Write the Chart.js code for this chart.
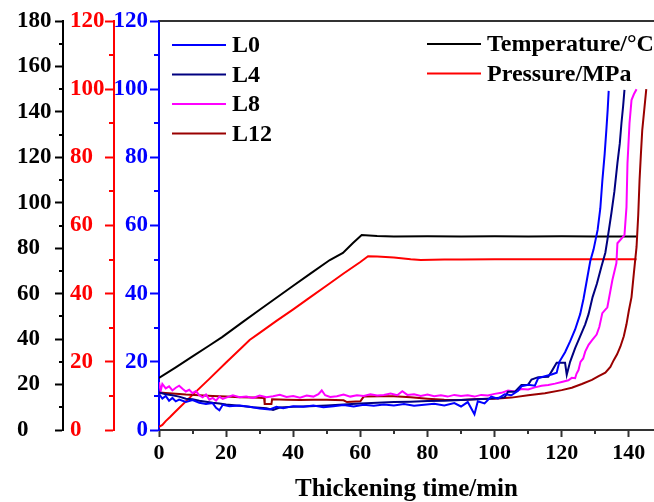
<!DOCTYPE html>
<html>
<head>
<meta charset="utf-8">
<script src="https://cdn.jsdelivr.net/npm/chart.js@4.4.1/dist/chart.umd.min.js"></script>
<style>
  html,body{margin:0;padding:0;background:#fff;}
  canvas{display:block;}
</style>
</head>
<body>
<canvas id="thickChart" width="654" height="502"></canvas>
<script>
// consistency curves, [time/min, Bc] (blue axis)
const l0 = [[0,10.5],[1,9.2],[2,10],[3,8.6],[4,9.4],[5,8.4],[6,8.9],[8,8.2],[10,8.8],[12,8],[14,7.6],[16,7.9],[17,6.5],[18,5.8],[19,7.4],[21,7],[24,7.2],[27,6.8],[30,6.3],[33,6],[35,6.8],[37,6.4],[40,7],[43,6.8],[46,7.2],[49,6.7],[52,7],[55,7.3],[58,6.9],[61,7.4],[64,7.1],[67,7.5],[70,7.2],[73,7.6],[76,7.1],[79,7.4],[82,7.7],[85,7.2],[88,7.9],[90,6.9],[92,8.2],[94,4.6],[95,8.4],[97,7.8],[99,9.8],[101,9.2],[103,10.5],[105,10.2],[107,11.5],[108,12.8],[110,13.3],[112,13],[113,15.2],[115,15.8],[117,16.3],[118.5,16.8],[119.3,20],[121,22.8],[122.5,26],[124,29.5],[125.5,34],[126.5,38.5],[127.5,44],[128.5,49.5],[129.5,53],[130.7,58.7],[131.5,65],[132.1,73],[132.8,81],[133.3,88],[133.7,94],[134,99.5]];
const l4 = [[0,11],[2,10.5],[4,10.2],[6,9.8],[8,9.2],[10,9],[12,8.6],[14,8.3],[16,8],[18,7.8],[20,7.5],[24,7.1],[28,6.7],[32,6.4],[34,5.9],[36,6.6],[40,6.8],[45,7],[50,7.2],[55,7.5],[60,7.8],[65,8],[70,8.2],[75,8.3],[80,8.5],[85,8.6],[90,8.8],[95,9],[100,9.3],[103,9.6],[104,11.2],[106,11.2],[107,12.2],[108,13.2],[110,13.3],[111,14.8],[113,15.5],[116,15.6],[117,17.2],[118.5,19.7],[121,19.7],[121.5,16.2],[122.5,20],[124,24],[125.3,27],[127,31],[128,34],[129.2,39],[130.5,43],[131.8,47.8],[133,52],[133.6,55.7],[134.8,63.6],[135.7,70],[136.6,78.3],[137.3,84],[137.8,90],[138.3,95],[138.7,99.8]];
const l8 = [[0,14],[0.5,11.5],[1,13.5],[2,12.2],[3,12.8],[4,11.6],[5,12.4],[6,13],[7,12.1],[8,11.3],[9,11.8],[10,10.8],[11,11.4],[12,10.2],[13,9.6],[14,10.4],[15,8.9],[16,9.4],[17,8.6],[18,9.8],[19,9.1],[20,9.5],[22,10.2],[24,9.6],[26,9.8],[28,9.4],[30,10.1],[32,9.6],[34,9.9],[36,10.3],[38,9.7],[40,10],[42,9.5],[44,10.1],[46,9.8],[47.5,10.5],[48.5,11.6],[49.5,10.2],[51,9.7],[53,9.9],[55,10.4],[57,9.8],[59,10.2],[61,10],[63,10.5],[65,10.1],[67,10.3],[69,10.7],[71,10.2],[72.5,11.4],[74,10.3],[76,10.5],[78,10],[80,10.4],[82,9.9],[84,10.2],[86,9.8],[88,10.3],[90,10],[92,10.2],[94,9.8],[96,10.3],[98,10.1],[100,10.6],[102,10.9],[104,11.6],[106,11.3],[108,12],[110,11.9],[112,12.5],[114,13],[116,13.2],[118,13.6],[120,14.1],[122,14.6],[123,15.3],[124,15.2],[124.4,16.5],[125,17.6],[125.6,20],[126.4,21],[127,23],[128,25],[129,26.3],[130.4,28],[131.2,30.2],[132.1,34.3],[133.6,36],[135.1,44],[136.3,49],[136.6,54.8],[138.7,57.2],[139.3,65.4],[139.6,78.3],[140.2,90],[140.8,96.8],[141.5,98.5],[142.3,100]];
const l12 = [[0,11],[4,10.7],[8,10.4],[12,10.2],[16,10],[20,9.8],[24,9.6],[28,9.5],[31.3,9.4],[31.5,7.6],[33.5,7.6],[33.7,9],[38,8.9],[42,8.8],[46,8.9],[50,8.9],[55,8.7],[56,8.2],[60,8.4],[61,9.8],[66,9.9],[70,9.9],[75,9.6],[80,9.2],[85,8.9],[90,8.8],[95,9.1],[100,9.2],[105,9.5],[110,10.2],[115,10.8],[120,11.7],[123,12.4],[126,13.5],[129,14.7],[131,15.8],[133,16.8],[134.5,18.5],[135.5,20.5],[136.5,22.2],[137.5,24.5],[138.5,27.5],[139.3,31],[140,35],[140.8,39],[141.5,46],[142.3,53.7],[142.8,63],[143.2,73.4],[143.6,81],[144,88],[144.6,94],[145.2,100]];
// temperature (black axis) and pressure (red axis)
const temperature = [[0,22.9],[5,27.6],[10,32.4],[15,37.2],[18.8,40.9],[25,47.6],[30,52.9],[35,58.2],[40,63.5],[45,68.7],[50.9,74.8],[54.8,77.9],[57.8,82.3],[60.4,85.8],[65,85.4],[70,85.2],[80,85.3],[90,85.2],[100,85.3],[110,85.2],[120,85.3],[130,85.2],[142.3,85.2]];
const pressure = [[0,0.9],[1,1.5],[2,2.6],[3.3,3.8],[5,5.5],[10,10.3],[15,15],[20,19.8],[25,24.5],[27,26.4],[30,28.5],[35,32],[40,35.4],[45,38.9],[50,42.4],[55,45.9],[60,49.3],[62.3,51],[65,50.9],[70,50.6],[75,50.1],[78,49.9],[85,50],[90,50],[100,50.1],[110,50.1],[142.3,50.1]];

const seriesNames = ['L0','L4','L8','L12','Temperature/\u00B0C','Pressure/MPa'];
const seriesColors = ['#0000FF','#000080','#FF00FF','#990000','#000000','#FF0000'];

const xRange = [0, 147.5];
const tempRange = [0, 180];
const pressRange = [0, 120];
const bcRange = [0, 120];

const FONT = 'Liberation Serif';

const toXY = (arr)=> arr.map(p => ({x:p[0], y:p[1]}));

const mkSet = (i, data, axis)=>({
  label: seriesNames[i],
  data: toXY(data),
  yAxisID: axis,
  borderColor: seriesColors[i],
  backgroundColor: seriesColors[i],
  borderWidth: 2,
  pointRadius: 0,
  tension: 0,
  fill: false
});

// minor ticks + top frame line
const framePlugin = {
  id: 'frame',
  afterDraw(chart){
    const ctx = chart.ctx;
    const a = chart.chartArea;
    ctx.save();
    ctx.lineWidth = 2;
    ctx.strokeStyle = '#333';
    ctx.beginPath();
    ctx.moveTo(a.left, a.top);
    ctx.lineTo(a.right, a.top);
    ctx.stroke();

    const minor = [['yT','#000',4],['yP','#FF0000',5],['yB','#0000FF',5]];
    minor.forEach(([id, col, len])=>{
      const s = chart.scales[id];
      ctx.strokeStyle = col;
      for(let v = 10; v < s.max; v += 20){
        const y = Math.round(s.getPixelForValue(v));
        ctx.beginPath();
        ctx.moveTo(s.right - len, y);
        ctx.lineTo(s.right, y);
        ctx.stroke();
      }
    });
    const sx = chart.scales.x;
    ctx.strokeStyle = '#333';
    for(let v = 10; v < sx.max; v += 20){
      const x = Math.round(sx.getPixelForValue(v));
      ctx.beginPath();
      ctx.moveTo(x, a.bottom);
      ctx.lineTo(x, a.bottom + 4);
      ctx.stroke();
    }
    ctx.restore();
  }
};

// two-column legend in the upper part of the plot
const legendSpots = [[172,45],[172,74.5],[172,104],[172,133.5],[427,44],[427,73.5]];
const legendPlugin = {
  id: 'cornerLegend',
  afterDatasetsDraw(chart){
    const ctx = chart.ctx;
    ctx.save();
    ctx.font = 'bold 24px "' + FONT + '"';
    ctx.textBaseline = 'middle';
    ctx.fillStyle = '#000';
    chart.data.datasets.forEach((ds, i)=>{
      const [x, y] = legendSpots[i];
      ctx.strokeStyle = ds.borderColor;
      ctx.lineWidth = 2;
      ctx.beginPath();
      ctx.moveTo(x, y);
      ctx.lineTo(x + 54, y);
      ctx.stroke();
      ctx.fillText(ds.label, x + 60, y + 1);
    });
    ctx.restore();
  }
};

// red axis labels start further right than its box edge
const shiftPlugin = {
  id: 'shiftRed',
  afterLayout(chart){
    const s = chart.scales.yP;
    if(s) s.left = 70;
  }
};

const yAxis = (range, color, tl, weight, width, cross)=>({
  type: 'linear',
  position: 'left',
  min: range[0],
  max: range[1],
  weight,
  afterFit: (s)=>{ s.width = width; },
  border: { display: true, color, width: 2 },
  grid: { drawOnChartArea: false, drawTicks: true, tickLength: tl, tickColor: color, tickWidth: 2, color },
  ticks: {
    stepSize: 20,
    color,
    crossAlign: cross,
    padding: 2,
    font: { family: FONT, size: 23, weight: 'bold' }
  }
});

new Chart(document.getElementById('thickChart'), {
  type: 'line',
  data: {
    datasets: [
      mkSet(0, l0, 'yB'),
      mkSet(1, l4, 'yB'),
      mkSet(2, l8, 'yB'),
      mkSet(3, l12, 'yB'),
      mkSet(4, temperature, 'yT'),
      mkSet(5, pressure, 'yP')
    ]
  },
  options: {
    responsive: false,
    animation: false,
    layout: { padding: { left: 17, top: 21, right: 0, bottom: 0 } },
    plugins: { legend: { display: false }, tooltip: { enabled: false } },
    scales: {
      x: {
        type: 'linear',
        position: 'bottom',
        min: xRange[0],
        max: xRange[1],
        afterFit: (s)=>{ s.height = 72; },
        border: { display: true, color: '#333', width: 2 },
        grid: { drawOnChartArea: false, tickLength: 7, tickColor: '#333', tickWidth: 2 },
        ticks: {
          stepSize: 20,
          includeBounds: false,
          maxRotation: 0,
          color: '#000',
          padding: 3,
          font: { family: FONT, size: 22, weight: 'bold' }
        },
        title: {
          display: true,
          text: 'Thickening time/min',
          color: '#000',
          padding: { top: 0, bottom: 0 },
          font: { family: FONT, size: 25, weight: 'bold', lineHeight: 1 }
        }
      },
      yB: yAxis(bcRange, '#0000FF', 9, 0, 45, 'near'),
      yP: yAxis(pressRange, '#FF0000', 9, 1, 51, 'far'),
      yT: yAxis(tempRange, '#000000', 8, 2, 46, 'far')
    }
  },
  plugins: [framePlugin, legendPlugin, shiftPlugin]
});
</script>
</body>
</html>
